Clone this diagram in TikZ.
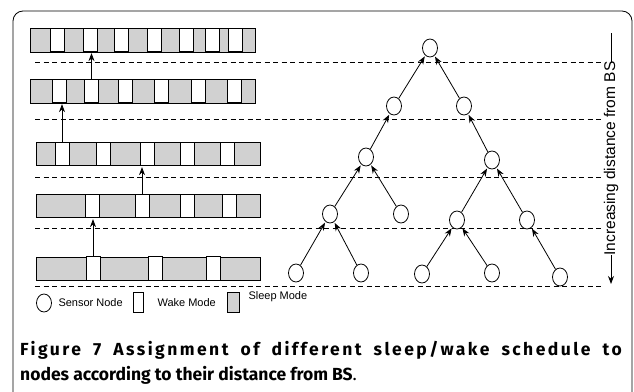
\documentclass[tikz,border=0pt]{standalone}
\usepackage{fontspec}
\setmainfont{Liberation Sans}
\newfontfamily\capfont{Fira Sans}
\usetikzlibrary{arrows.meta,shapes.geometric}

\begin{document}
\begin{tikzpicture}[x=1pt,y=-1pt,
    sensor/.style={draw,ellipse,fill=white,inner sep=0pt,minimum width=15pt,minimum height=18pt,line width=0.8pt},
    wake/.style={draw,fill=white,inner sep=0pt,minimum width=14pt,minimum height=23.5pt,line width=0.8pt},
    sleep/.style={draw,fill=black!18,line width=0.8pt},
    level/.style={dash pattern=on 5pt off 3.5pt,line width=0.8pt},
    up/.style={-{Stealth[length=8pt,width=6pt]},line width=0.8pt,shorten >=1pt}]
  \useasboundingbox (0,0) rectangle (634,391);
  \draw[rounded corners=10pt,line width=0.8pt] (13,11) rectangle (632,430);

  % levels
  \foreach \y in {62,119,177,228,286}
    \draw[level] (35,\y) -- (603,\y);

  % sleep/wake schedules
  \draw[sleep] (30,28) rectangle (255,52);
  \foreach \x [count=\i] in {57,90,121.5,154,186,212.5,235}
    \node[wake] (r1w\i) at (\x,40) {};
  \draw[sleep] (30,79) rectangle (255,103);
  \foreach \x [count=\i] in {59.5,91.5,125,161.5,198.5,234.5}
    \node[wake] (r2w\i) at (\x,91) {};
  \draw[sleep] (36,142.5) rectangle (260,165.5);
  \foreach \x [count=\i] in {62,103.3,147.7,187,227.5}
    \node[wake] (r3w\i) at (\x,154) {};
  \draw[sleep] (36,194.5) rectangle (260,217.5);
  \foreach \x [count=\i] in {92,142,187,229}
    \node[wake] (r4w\i) at (\x,206) {};
  \draw[sleep] (36,257) rectangle (260,280);
  \foreach \x [count=\i] in {93,155,213.7}
    \node[wake] (r5w\i) at (\x,268.5) {};

  \draw[up] (r2w2.north) -- (r2w2.north |- r1w2.south);
  \draw[up] (r3w1.north) -- (r3w1.north |- r2w1.south);
  \draw[up] (r4w2.north) -- (r4w2.north |- r3w3.south);
  \draw[up] (r5w1.north) -- (r5w1.north |- r4w1.south);

  % tree of sensors
  \node[sensor] (root) at (430,48) {};
  \node[sensor] (b1) at (394,106) {};
  \node[sensor] (b2) at (464,106) {};
  \node[sensor] (c1) at (366,157) {};
  \node[sensor] (c2) at (492,160) {};
  \node[sensor] (d1) at (330,214) {};
  \node[sensor] (d2) at (401,214) {};
  \node[sensor] (d3) at (457,220) {};
  \node[sensor] (d4) at (527,220) {};
  \node[sensor] (e1) at (296,273) {};
  \node[sensor] (e2) at (361,273) {};
  \node[sensor] (e3) at (422,274) {};
  \node[sensor] (e4) at (492,273) {};
  \node[sensor] (e5) at (560,277) {};
  \draw[up] (b1) -- (root);
  \draw[up] (b2) -- (root);
  \draw[up] (c1) -- (b1);
  \draw[up] (c2) -- (b2);
  \draw[up] (d1) -- (c1);
  \draw[up] (d2) -- (c1);
  \draw[up] (d3) -- (c2);
  \draw[up] (d4) -- (c2);
  \draw[up] (e1) -- (d1);
  \draw[up] (e2) -- (d1);
  \draw[up] (e3) -- (d3);
  \draw[up] (e4) -- (d3);
  \draw[up] (e5) -- (d4);

  % distance axis
  \coordinate (axtop) at (611,33);
  \coordinate (axbot) at (611,284);
  \draw[-{Stealth[length=8pt,width=6pt]},line width=0.8pt] (axtop) -- node[fill=white,rotate=90,inner sep=0pt,font=\fontsize{15.5}{18}\selectfont] (axlabel) {Increasing distance from BS} (axbot);

  % legend
  \begin{scope}[font=\fontsize{11}{13}\selectfont]
    \node[sensor] (keysensor) at (44,303) {};
    \node[anchor=west] (keysensortxt) at (55,303) {Sensor Node};
    \node[wake,minimum width=10pt,minimum height=20pt] (keywake) at (138,302) {};
    \node[anchor=west] (keywaketxt) at (154,303) {Wake Mode};
    \node[draw,fill=black!18,line width=0.8pt,minimum width=12pt,minimum height=20pt] (keysleep) at (233,302) {};
    \node[anchor=west] (keysleeptxt) at (245,297) {Sleep Mode};
  \end{scope}

  % caption
  \node[anchor=north west,text width=604pt,align=justify,inner sep=0pt,font=\capfont\fontsize{17.5}{25}\selectfont] (caption) at (20,341)
    {{\addfontfeature{LetterSpace=14}\textbf{Figure 7 Assignment of different sleep/wake schedule to}}\linebreak
     \textbf{nodes according to their distance from BS}.};
\end{tikzpicture}
\end{document}
